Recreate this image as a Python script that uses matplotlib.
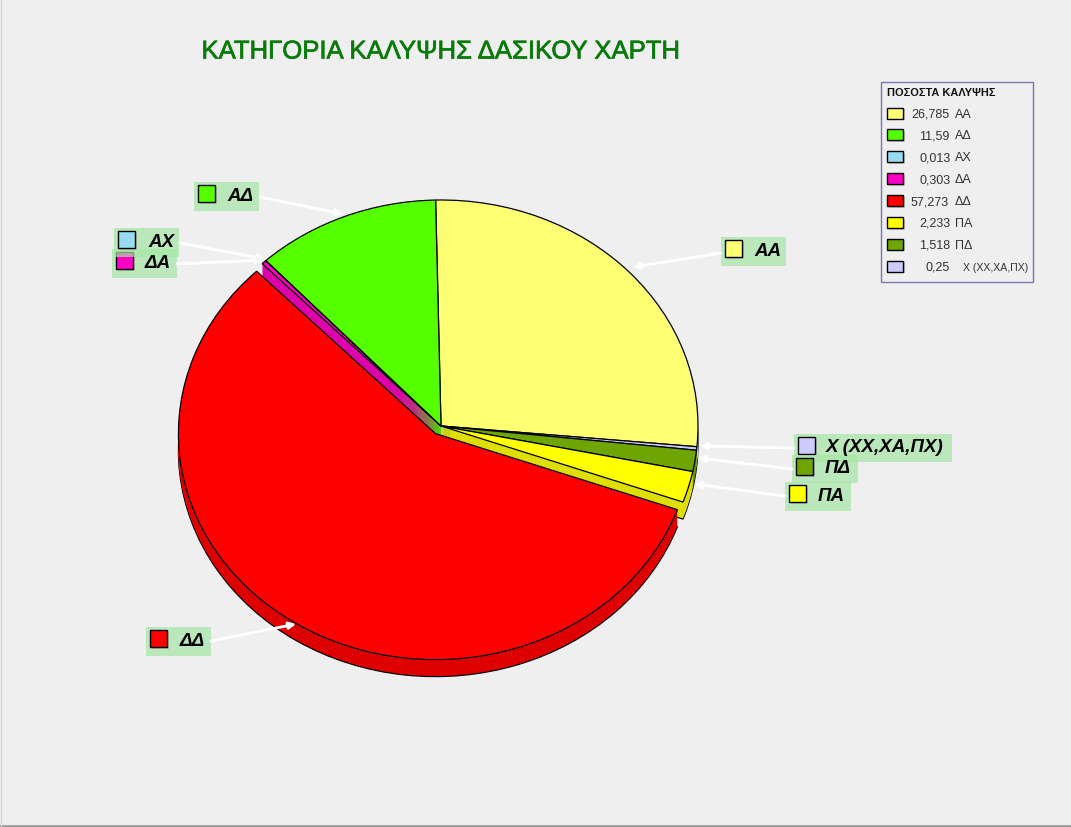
import matplotlib
matplotlib.use("Agg")
import matplotlib.pyplot as plt
from matplotlib.patches import Rectangle
from matplotlib import patheffects

plt.rcParams["font.family"] = ["Liberation Sans", "DejaVu Sans"]

# pie order, clockwise from the top
pie_names = ["ΑΑ", "Χ (ΧΧ,ΧΑ,ΠΧ)", "ΠΔ", "ΠΑ", "ΔΔ", "ΔΑ", "ΑΧ", "ΑΔ"]
pie_values = [26.785, 0.25, 1.518, 2.233, 57.273, 0.303, 0.013, 11.59]
pie_colors = ["#FFFF73", "#CCCCFF", "#6FA500", "#FFFF00",
              "#FF0000", "#FF00C5", "#97DBF2", "#55FF00"]

# legend order
legend_title = "ΠΟΣΟΣΤΑ ΚΑΛΥΨΗΣ"
legend_names = ["ΑΑ", "ΑΔ", "ΑΧ", "ΔΑ", "ΔΔ", "ΠΑ", "ΠΔ", "Χ (ΧΧ,ΧΑ,ΠΧ)"]
legend_values = ["26,785", "11,59", "0,013", "0,303",
                 "57,273", "2,233", "1,518", "0,25"]
legend_x = [911, 919, 919, 919, 911, 919, 919, 926]

title = "ΚΑΤΗΓΟΡΙΑ ΚΑΛΥΨΗΣ ΔΑΣΙΚΟΥ ΧΑΡΤΗ"

W, H = 1071, 828
BG = "#EFEFEF"
CX, CY, RX, RY = 441, 427, 257, 226
DEPTH = 17

# callout layout: box (x0, x1, y0, y1), swatch x, text x, arrow start, arrow end
callouts = {
    "ΑΑ": ((721, 786, 238, 267), 725, 754, (721, 254), (633, 268)),
    "ΑΔ": ((194, 259, 183, 212), 198, 227, (260, 198), (343, 215)),
    "ΑΧ": ((114, 179, 229, 258), 118, 148, (180, 244), (265, 260)),
    "ΔΑ": ((112, 177, 250, 279), 116, 145, (177, 265), (264, 261)),
    "ΔΔ": ((146, 211, 628, 657), 150, 180, (211, 642), (296, 625)),
    "Χ (ΧΧ,ΧΑ,ΠΧ)": ((794, 952, 435, 463), 798, 826, (794, 449), (700, 447)),
    "ΠΔ": ((792, 858, 456, 484), 796, 825, (792, 470), (698, 459)),
    "ΠΑ": ((785, 851, 483, 512), 789, 818, (785, 497), (694, 485)),
}


def darker(color: str) -> tuple:
    """Return the shaded version of a slice colour."""
    r, g, b = matplotlib.colors.to_rgb(color)
    return (r * 0.87, g * 0.87, b * 0.87)


def draw_layer(ax, drop: float, colors: list, keep_red: bool, edge: bool) -> None:
    """Draw one pie layer, dropped by some pixels, with or without the red slice."""
    explode = [0.04 if n == "ΔΔ" else 0 for n in pie_names]
    wedges, _ = ax.pie(
        pie_values,
        colors=colors,
        explode=explode,
        startangle=91.2,
        counterclock=False,
        radius=1,
        center=(0, -drop / RY),
        wedgeprops={"linewidth": 0.9 if edge else 0,
                    "edgecolor": "black" if edge else "none"},
    )
    for name, wedge in zip(pie_names, wedges):
        if (name == "ΔΔ") != keep_red:
            wedge.set_visible(False)
        # order: side walls, the two cut walls, top faces, then the red slice
        if keep_red:
            wedge.set_zorder(5 if drop == 0 else 4)
        elif drop == 0:
            wedge.set_zorder(3)
        else:
            wedge.set_zorder(2 if name in ("ΠΑ", "ΔΑ") else 1)


def draw_pie(ax) -> None:
    """Draw the pie: others first, then the pulled out red slice on top."""
    shaded = [darker(c) for c in pie_colors]
    for keep_red in (False, True):
        for drop in range(DEPTH, 0, -1):
            draw_layer(ax, drop, shaded, keep_red, drop == DEPTH)
        draw_layer(ax, 0, pie_colors, keep_red, True)
    ax.set_aspect("auto")
    ax.set_xlim(-CX / RX, (W - CX) / RX)
    ax.set_ylim(-(H - CY) / RY, CY / RY)
    ax.axis("off")


def draw_swatch(ax, x: float, y: float, w: float, h: float, color: str) -> None:
    """Draw a colour box with its small shadow."""
    ax.add_patch(Rectangle((x + 1.5, y + 1.5), w, h, fc="#A8A8A8", ec="none", alpha=0.6))
    ax.add_patch(Rectangle((x, y), w, h, fc=color, ec="black", lw=1))


def draw_callouts(ax) -> None:
    """Draw the green labels and the white arrows to the slices."""
    for name, color in zip(pie_names, pie_colors):
        box, sw_x, tx_x, start, end = callouts[name]
        x0, x1, y0, y1 = box
        ax.annotate("", xy=end, xytext=start,
                    arrowprops={"arrowstyle": "-|>", "color": "white", "lw": 2,
                                "mutation_scale": 10, "shrinkA": 0, "shrinkB": 0})
        ax.add_patch(Rectangle((x0, y0), x1 - x0, y1 - y0,
                               fc="#A5E6A5", ec="none", alpha=0.7))
        draw_swatch(ax, sw_x, y0 + 3, 17, 17, color)
        ax.text(tx_x, (y0 + y1) / 2 - 1, name, fontsize=13.5, style="italic",
                weight="bold", color="black", va="center", ha="left")


def draw_legend(ax) -> None:
    """Draw the legend box in the top right corner."""
    ax.add_patch(Rectangle((881, 83), 152, 200, fc=BG, ec="#7878B4", lw=1))
    ax.text(887, 92.5, legend_title, fontsize=7.9, weight="bold", color="#111111",
            va="center", ha="left")
    for i, name in enumerate(legend_names):
        y = 114 + i * 21.9
        color = pie_colors[pie_names.index(name)]
        draw_swatch(ax, 887, y - 5.5, 16, 11, color)
        ax.text(legend_x[i], y + 0.5, legend_values[i], fontsize=9,
                color="#333333", va="center", ha="left")
        # the long name is squeezed in the original
        long_name = len(name) > 2
        ax.text(963 if long_name else 955, y + 0.5, name,
                fontsize=7.6 if long_name else 9,
                color="#333333", va="center", ha="left")


def main() -> None:
    """Build the figure and save it as out.png."""
    fig = plt.figure(figsize=(W / 100, H / 100), dpi=100, facecolor=BG)

    pie_ax = fig.add_axes([0, 0, 1, 1])
    draw_pie(pie_ax)

    ax = fig.add_axes([0, 0, 1, 1])
    ax.set_xlim(0, W)
    ax.set_ylim(H, 0)
    ax.axis("off")

    title_text = ax.text(441, 52.5, title, fontsize=18.5, color="#0A7A0A",
                         va="center", ha="center")
    title_text.set_path_effects(
        [patheffects.withStroke(linewidth=0.5, foreground="#0A7A0A")])
    draw_callouts(ax)
    draw_legend(ax)

    # grey window border, bottom and left
    ax.plot([0, W], [827, 827], color="#9A9A9A", lw=2)
    ax.plot([0.5, 0.5], [0, H], color="#D4D4D4", lw=1)

    fig.savefig("out.png", dpi=100, facecolor=BG)


if __name__ == "__main__":
    main()
